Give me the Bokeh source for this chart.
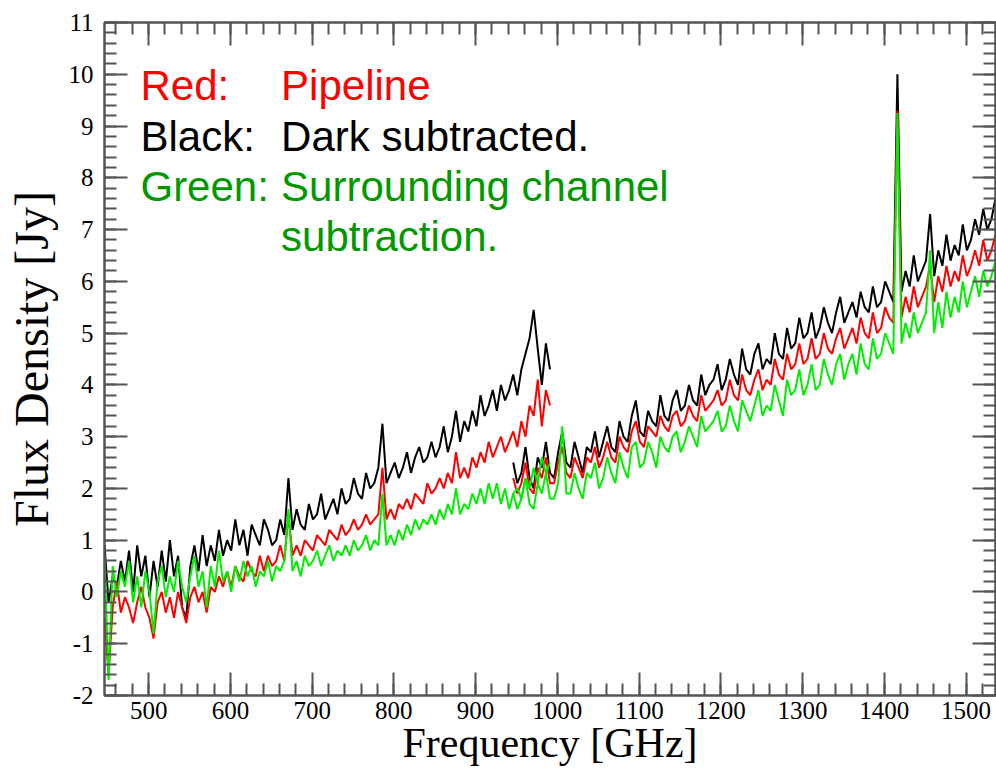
import numpy as np
from bokeh.plotting import figure
from bokeh.models import LinearAxis, SingleIntervalTicker, Label, Range1d, CustomJSTickFormatter
from bokeh.embed import file_html
from bokeh.resources import INLINE

# ---- data ----
# Long-wavelength band (SLW), 5 GHz sampling
freq_slw = np.arange(446, 992, 5)
black_slw = [
    0.9, -0.2, 0.3, 0.1, 0.6, 0.2, 0.8, 0.0, 0.9, 0.3,
    0.7, -0.1, 0.6, 0.1, 0.8, 0.2, 1.0, 0.3, 0.7, -0.3,
    -0.5, 0.5, 0.9, 0.4, 1.1, 0.5, 0.9, 0.6, 1.2, 0.7,
    1.0, 0.8, 1.4, 0.9, 1.2, 0.7, 1.3, 1.1, 0.9, 1.4,
    1.2, 0.9, 1.0, 1.4, 1.1, 2.2, 1.2, 1.6, 1.3, 1.2,
    1.7, 1.4, 1.5, 1.9, 1.4, 1.6, 1.8, 1.5, 2.0, 1.7,
    1.8, 2.2, 1.9, 1.8, 2.3, 2.0, 2.1, 2.4, 3.25, 2.1,
    2.3, 2.5, 2.2, 2.4, 2.7, 2.3, 2.6, 2.8, 2.5, 2.6,
    2.9, 2.6, 2.8, 3.2, 2.7, 3.0, 3.5, 2.9, 3.3, 3.1,
    3.5, 3.2, 3.8, 3.4, 3.6, 3.9, 3.5, 4.0, 3.7, 3.9,
    4.2, 3.8, 4.3, 4.6, 4.9, 5.45, 4.7, 4.0, 4.8, 4.3,
]
red_slw = [
    -0.5, -1.6, -0.3, 0.2, -0.4, -0.1, -0.3, -0.6, -0.2, 0.1,
    -0.3, -0.5, -0.9, -0.2, 0.0, -0.4, -0.1, -0.5, 0.0, -0.3,
    -0.6, -0.1, 0.1, -0.2, 0.0, -0.4, 0.1, 0.0, 0.3, 0.1,
    0.4, 0.1, 0.5, 0.3, 0.2, 0.6, 0.4, 0.3, 0.7, 0.4,
    0.7, 0.5, 0.6, 0.9, 0.6, 1.5, 0.7, 0.9, 0.7, 1.0,
    0.9, 0.8, 1.1, 1.0, 0.9, 1.2, 1.1, 1.0, 1.3, 1.1,
    1.2, 1.4, 1.2, 1.3, 1.5, 1.3, 1.4, 1.5, 2.4, 1.4,
    1.6, 1.4, 1.7, 1.6, 1.8, 1.6, 1.9, 1.8, 1.7, 2.1,
    1.9, 2.0, 2.2, 2.0, 2.3, 2.1, 2.7, 2.2, 2.4, 2.2,
    2.6, 2.4, 2.7, 2.5, 2.9, 2.6, 2.8, 3.0, 2.7, 2.9,
    3.1, 2.8, 3.3, 3.0, 3.6, 3.4, 4.1, 3.2, 3.9, 3.6,
]
green_slw = [
    0.7, -1.7, 0.5, -0.1, 0.4, 0.1, 0.6, -0.2, 0.3, -0.3,
    0.4, 0.0, -0.8, 0.2, 0.5, -0.1, 0.3, 0.0, 0.6, 0.1,
    -0.2, 0.3, 0.7, 0.1, 0.4, -0.3, 0.5, 0.1, 0.8, 0.2,
    0.4, 0.0, 0.5, 0.2, 0.6, 0.3, 0.5, 0.1, 0.4, 0.3,
    0.6, 0.2, 0.5, 0.4, 0.6, 1.6, 0.4, 0.6, 0.3, 0.7,
    0.5, 0.6, 0.8, 0.5, 0.7, 0.9, 0.6, 0.8, 0.7, 0.9,
    0.7, 1.0, 0.8, 0.9, 1.1, 0.8, 1.0, 0.9, 1.9, 0.9,
    1.1, 0.9, 1.2, 1.0, 1.3, 1.1, 1.4, 1.2, 1.4, 1.3,
    1.5, 1.3, 1.6, 1.4, 1.7, 1.5, 2.0, 1.5, 1.7, 1.6,
    1.9, 1.7, 2.0, 1.7, 2.1, 1.8, 2.1, 1.7, 2.0, 1.6,
    1.9, 2.0, 1.8, 2.2, 2.0, 2.4, 2.1, 2.6, 2.3, 2.5,
]

# Short-wavelength band (SSW), 5 GHz sampling
freq_ssw = np.arange(946, 1537, 5)
black_ssw = [
    2.5, 2.1, 2.3, 2.8, 2.2, 2.0, 2.6, 2.4, 2.9, 2.3,
    2.2, 2.7, 3.1, 2.5, 2.4, 2.9, 2.6, 2.3, 2.8, 2.7,
    3.1, 2.6, 2.9, 3.2, 2.8, 2.7, 3.3, 3.0, 2.9, 3.4,
    3.7, 3.1, 3.0, 3.5, 3.3, 3.2, 3.8, 3.4, 3.3, 3.7,
    3.9, 3.5, 3.6, 4.0, 3.7, 3.6, 4.2, 3.8, 4.0, 4.1,
    4.4, 3.9, 4.1, 4.5, 4.2, 4.0, 4.7, 4.3, 4.2, 4.6,
    4.8, 4.3, 4.5, 4.4, 5.0, 4.6, 4.5, 5.1, 4.7, 4.8,
    5.3, 4.9, 5.0, 5.4, 4.9, 5.1, 5.5, 5.2, 5.0, 5.4,
    5.7, 5.2, 5.4, 5.6, 5.3, 5.8, 5.5, 5.4, 5.9, 5.5,
    5.6, 6.0, 5.8, 5.6, 10.0, 5.8, 6.2, 5.9, 6.5, 6.0,
    6.2, 6.4, 7.3, 6.1, 6.6, 6.3, 6.9, 6.4, 6.7, 6.5,
    7.1, 6.6, 6.8, 7.2, 6.9, 7.4, 7.0, 7.2, 7.6,
]
red_ssw = [
    2.2, 1.9, 2.1, 2.5, 2.0, 1.9, 2.4, 2.2, 2.6, 2.1,
    2.1, 2.5, 2.8, 2.3, 2.2, 2.6, 2.4, 2.2, 2.6, 2.5,
    2.8, 2.4, 2.6, 2.9, 2.6, 2.5, 3.0, 2.8, 2.7, 3.1,
    3.3, 2.9, 2.8, 3.2, 3.1, 3.0, 3.4, 3.2, 3.1, 3.4,
    3.5, 3.2, 3.3, 3.6, 3.4, 3.3, 3.8, 3.5, 3.6, 3.7,
    3.9, 3.6, 3.7, 4.1, 3.8, 3.7, 4.2, 3.9, 3.8, 4.1,
    4.3, 3.9, 4.1, 4.0, 4.5, 4.2, 4.1, 4.6, 4.3, 4.4,
    4.8, 4.4, 4.5, 4.9, 4.5, 4.6, 5.0, 4.7, 4.6, 4.9,
    5.1, 4.7, 4.9, 5.1, 4.8, 5.3, 5.0, 4.9, 5.4, 5.0,
    5.1, 5.5, 5.3, 5.2, 9.3, 5.3, 5.7, 5.4, 5.9, 5.5,
    5.7, 5.9, 6.3, 5.6, 6.1, 5.8, 6.3, 5.9, 6.2, 6.0,
    6.5, 6.1, 6.3, 6.6, 6.3, 6.8, 6.4, 6.6, 6.9,
]
green_ssw = [
    1.9, 1.6, 1.8, 2.2, 1.7, 1.6, 2.1, 1.9, 2.3, 1.8,
    1.8, 2.1, 3.2, 1.9, 1.9, 2.3, 2.0, 1.8, 2.3, 2.2,
    2.5, 2.0, 2.2, 2.6, 2.3, 2.1, 2.7, 2.4, 2.2, 2.8,
    2.9, 2.4, 2.5, 2.9, 2.7, 2.4, 3.0, 2.8, 2.7, 3.0,
    3.1, 2.7, 2.9, 3.2, 3.0, 2.8, 3.4, 3.1, 3.2, 3.3,
    3.5, 3.1, 3.2, 3.6, 3.3, 3.1, 3.7, 3.5, 3.3, 3.6,
    3.9, 3.4, 3.6, 3.5, 4.0, 3.7, 3.4, 4.1, 3.8, 3.9,
    4.3, 3.8, 4.0, 4.4, 3.9, 4.0, 4.5, 4.2, 4.0, 4.4,
    4.6, 4.1, 4.4, 4.6, 4.2, 4.8, 4.4, 4.3, 4.9, 4.5,
    4.6, 5.0, 4.8, 4.6, 9.25, 4.8, 5.2, 4.9, 5.4, 5.0,
    5.2, 5.4, 6.6, 5.0, 5.6, 5.1, 5.8, 5.3, 5.7, 5.4,
    6.0, 5.5, 5.8, 6.1, 5.7, 6.2, 5.9, 6.1, 6.4,
]

x_label = "Frequency [GHz]"
y_label = "Flux Density [Jy]"
note_lines = [
    ("Red:", "Pipeline", "#ff0000"),
    ("Black:", "Dark subtracted.", "black"),
    ("Green:", "Surrounding channel", "#009900"),
    ("", "subtraction.", "#009900"),
]

AX = "#555555"
SERIF = "Liberation Serif"
SANS = "Liberation Sans"

p = figure(width=996, height=778, x_range=Range1d(446, 1536), y_range=Range1d(-2, 11),
           output_backend="svg", toolbar_location=None,
           min_border_left=104, min_border_right=1, min_border_top=22, min_border_bottom=83)
p.grid.visible = False
p.outline_line_color = AX
p.outline_line_width = 2
p.background_fill_color = "white"
p.border_fill_color = "white"


def style(ax, show_labels):
    ax.major_tick_in = 23
    ax.major_tick_out = 0
    ax.minor_tick_in = 12
    ax.minor_tick_out = 0
    ax.axis_line_color = AX
    ax.axis_line_width = 2
    ax.major_tick_line_color = AX
    ax.major_tick_line_width = 2
    ax.minor_tick_line_color = AX
    ax.minor_tick_line_width = 2
    if show_labels:
        ax.major_label_text_font = SERIF
        ax.major_label_text_font_size = "25px"
        ax.major_label_text_color = "black"
        ax.axis_label_text_font = SERIF
        ax.axis_label_text_font_style = "normal"
        ax.axis_label_text_color = "black"
        ax.formatter = CustomJSTickFormatter(code="return tick.toFixed(0);")
    else:
        ax.formatter = CustomJSTickFormatter(code="return '';")
        ax.major_label_standoff = 0
        ax.axis_label = None


p.xaxis.ticker = SingleIntervalTicker(interval=100, num_minor_ticks=5)
p.yaxis.ticker = SingleIntervalTicker(interval=1, num_minor_ticks=5)
p.xaxis.axis_label = x_label
p.yaxis.axis_label = y_label
style(p.xaxis[0], True)
style(p.yaxis[0], True)
p.xaxis.axis_label_text_font_size = "42px"
p.yaxis.axis_label_text_font_size = "48px"
p.xaxis.major_label_standoff = 6
p.xaxis.axis_label_standoff = -2
p.yaxis.major_label_standoff = 11
p.yaxis.axis_label_standoff = 8

top = LinearAxis(ticker=SingleIntervalTicker(interval=100, num_minor_ticks=5))
right = LinearAxis(ticker=SingleIntervalTicker(interval=1, num_minor_ticks=5))
style(top, False)
style(right, False)
p.add_layout(top, "above")
p.add_layout(right, "right")

lw = 2
for f, b in ((freq_slw, black_slw), (freq_ssw, black_ssw)):
    p.line(f, b, line_color="black", line_width=lw)
for f, r in ((freq_slw, red_slw), (freq_ssw, red_ssw)):
    p.line(f, r, line_color="#ff0000", line_width=lw)
for f, g in ((freq_slw, green_slw), (freq_ssw, green_ssw)):
    p.line(f, g, line_color="#00ee00", line_width=lw)

# note block, anchored in data units
col1_x, col2_x = 490, 662
base_y = [9.78, 8.79, 7.83, 6.86]
for (head, body, c), y in zip(note_lines, base_y):
    if head:
        p.add_layout(Label(x=col1_x, y=y, text=head, text_color=c, text_font=SANS,
                           text_font_size="42px", text_baseline="alphabetic"))
    p.add_layout(Label(x=col2_x, y=y, text=body, text_color=c, text_font=SANS,
                       text_font_size="42px", text_baseline="alphabetic"))

open("out.html", "w").write(file_html(p, INLINE))
